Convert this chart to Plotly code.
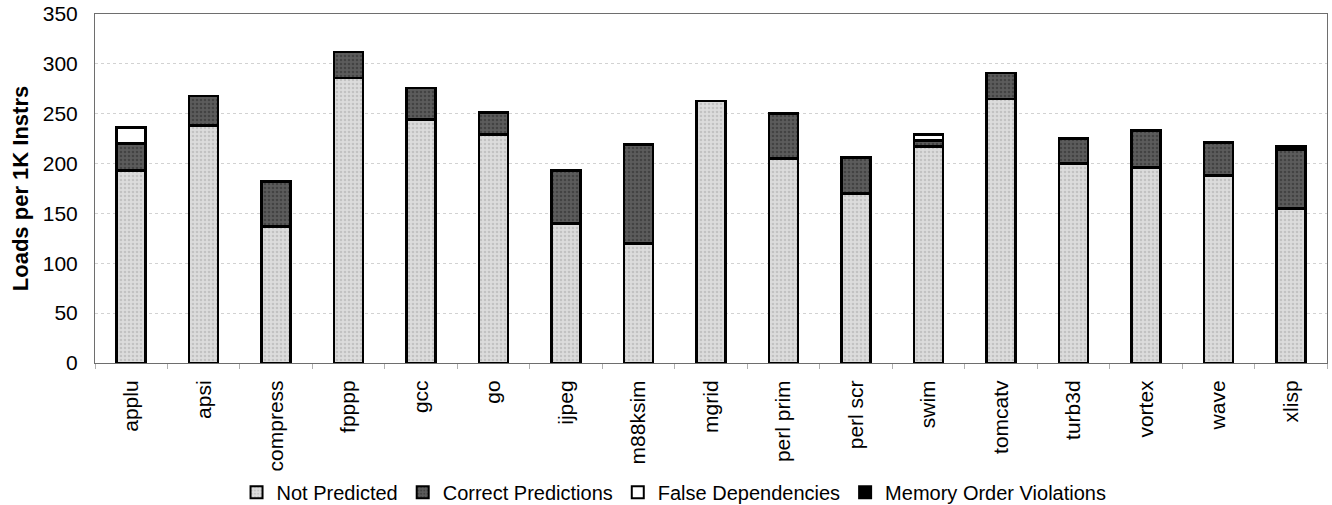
import plotly.graph_objects as go

categories = ["applu", "apsi", "compress", "fpppp", "gcc", "go", "ijpeg", "m88ksim",
              "mgrid", "perl prim", "perl scr", "swim", "tomcatv", "turb3d", "vortex",
              "wave", "xlisp"]
not_predicted = [193, 238, 137, 286, 244, 229, 140, 120, 263, 205, 170, 217, 265, 200, 196, 188, 155]
correct_predictions = [27, 30, 45, 26, 32, 22, 53, 99, 0, 45, 36, 6, 26, 25, 37, 33, 59]
false_dependencies = [16, 0, 0, 0, 0, 0, 0, 0, 0, 0, 0, 6, 0, 0, 0, 0, 3]
memory_order_violations = [0, 0, 0, 0, 0, 0, 0, 0, 0, 0, 0, 0, 0, 0, 0, 0, 0]

series = [
    ("Not Predicted", not_predicted, "#dcdcdc", "#a8a8a8", "."),
    ("Correct Predictions", correct_predictions, "#5c5c5c", "#2a2a2a", "."),
    ("False Dependencies", false_dependencies, "#ffffff", "#ffffff", ""),
    ("Memory Order Violations", memory_order_violations, "#000000", "#000000", ""),
]

FONT = "Liberation Sans, Arial, Helvetica, sans-serif"

fig = go.Figure()
for name, vals, bg, fg, shape in series:
    marker = dict(color=bg, line=dict(color="#000000", width=2.5))
    if shape:
        marker["pattern"] = dict(shape=shape, bgcolor=bg, fgcolor=fg, size=4, solidity=0.35)
    fig.add_trace(go.Bar(x=categories, y=vals, name=name, marker=marker))

fig.update_layout(
    barmode="stack",
    bargap=0.6,
    width=1332,
    height=505,
    margin=dict(l=95, r=5, t=14, b=142, autoexpand=False),
    paper_bgcolor="white",
    plot_bgcolor="white",
    font=dict(family=FONT, color="#000000", size=20),
    showlegend=True,
    legend=dict(
        orientation="h",
        x=0.47, xanchor="center",
        y=-0.37, yanchor="middle",
        font=dict(family=FONT, size=20, color="#000000"),
        itemsizing="constant",
        bgcolor="rgba(0,0,0,0)",
        traceorder="normal",
    ),
)

fig.update_yaxes(
    range=[0, 350],
    dtick=50,
    showgrid=True,
    gridcolor="#d2d2d2",
    griddash="dot",
    gridwidth=1,
    showline=True,
    linecolor="#6e6e6e",
    linewidth=1,
    mirror=True,
    ticks="",
    ticklabelstandoff=12,
    automargin=False,
    tickfont=dict(family=FONT, size=21, color="#000000"),
    zeroline=False,
    title=dict(text="<b>Loads per 1K Instrs</b>", font=dict(family=FONT, size=22, color="#000000"),
               standoff=8),
)

fig.update_xaxes(
    showline=True,
    linecolor="#6e6e6e",
    linewidth=1,
    mirror=True,
    ticks="outside",
    tickson="boundaries",
    ticklen=5,
    tickcolor="#b0b0b0",
    tickangle=-90,
    ticklabelstandoff=8,
    automargin=False,
    tickfont=dict(family=FONT, size=21, color="#000000"),
    showgrid=False,
)

fig.write_html(
    "out.html",
    config={"displayModeBar": False},
    post_script="document.body.style.margin='0px';document.body.style.overflow='hidden';",
)
